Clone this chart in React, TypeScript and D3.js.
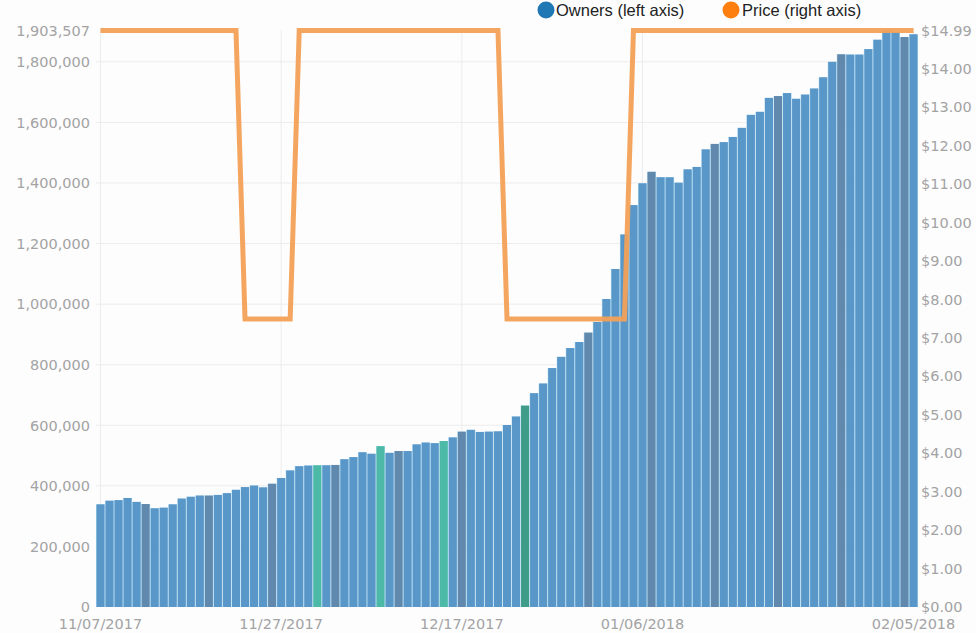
import React from "react";
import * as d3 from "d3";

const startDate = "11/07/2017";
const owners = [
  339000, 351000, 353000, 360000, 347000, 340000, 326000, 328000, 339000, 358000,
  364000, 368000, 368000, 370000, 376000, 387000, 396000, 401000, 395000, 407000,
  426000, 451000, 465000, 467000, 468000, 468000, 469000, 488000, 495000, 511000,
  506000, 531000, 509000, 515000, 515000, 537000, 543000, 541000, 548000, 560000,
  579000, 585000, 578000, 579000, 580000, 601000, 629000, 665000, 706000, 738000,
  789000, 826000, 855000, 875000, 906000, 941000, 1017000, 1116000, 1230000, 1327000,
  1399000, 1437000, 1419000, 1419000, 1401000, 1445000, 1453000, 1511000, 1529000, 1535000,
  1552000, 1582000, 1625000, 1635000, 1681000, 1687000, 1697000, 1678000, 1692000, 1712000,
  1749000, 1800000, 1825000, 1824000, 1824000, 1842000, 1873000, 1903507, 1899000, 1882000,
  1891000,
];
const priceChangeDates = ["11/07/2017", "11/23/2017", "11/29/2017", "12/22/2017", "01/05/2018"];
const priceChangeValues = [14.99, 7.49, 14.99, 7.49, 14.99];
const markedDates = ["12/01/2017", "12/08/2017", "12/15/2017", "12/24/2017"];
const xTickLabels = ["11/07/2017", "11/27/2017", "12/17/2017", "01/06/2018", "02/05/2018"];
const leftTicks = [0, 200000, 400000, 600000, 800000, 1000000, 1200000, 1400000, 1600000, 1800000, 1903507];
const rightTicks = [0, 1, 2, 3, 4, 5, 6, 7, 8, 9, 10, 11, 12, 13, 14, 14.99];
const legendLabels = ["Owners (left axis)", "Price (right axis)"];

const parse = d3.timeParse("%m/%d/%Y");
const fmt = d3.timeFormat("%m/%d/%Y");

export default function App() {
  const W = 976, H = 633;
  const left = 96, right = 918, top = 30.5, bottom = 607;

  const start = parse(startDate) as Date;
  const dates = owners.map((_, i) => fmt(d3.timeDay.offset(start, i)));
  const changeTimes = priceChangeDates.map((d) => (parse(d) as Date).getTime());
  const prices = dates.map((d) => {
    const t = (parse(d) as Date).getTime();
    let p = priceChangeValues[0];
    changeTimes.forEach((ct, k) => { if (t >= ct) p = priceChangeValues[k]; });
    return p;
  });

  const x = d3.scaleBand<string>().domain(dates).range([left, right]).paddingInner(0.11).paddingOuter(0.05);
  const xc = (d: string) => (x(d) as number) + x.bandwidth() / 2;
  const yL = d3.scaleLinear().domain([0, 1903507]).range([bottom, top]);
  const yR = d3.scaleLinear().domain([0, 14.99]).range([bottom, top]);

  const line = d3.line<number>().x((_, i) => xc(dates[i])).y((p) => yR(p)).curve(d3.curveLinear);

  const barColor = (d: string) => {
    const dt = parse(d) as Date;
    const sunday = dt.getDay() === 0;
    const marked = markedDates.includes(d);
    if (marked && sunday) return "#3f9c88";
    if (marked) return "#4cbaa6";
    if (sunday) return "#6089ad";
    return "#5a97c9";
  };

  const axisFont = { fontFamily: "DejaVu Sans", fontSize: 14.5, fill: "#a3a3a3" } as const;
  const commaFmt = d3.format(",");

  return (
    <svg width={W} height={H} style={{ position: "absolute", left: 0, top: 0, background: "#fff" }}>
      <rect x={0} y={0} width={W} height={H} fill="#fdfdfe" />
      {leftTicks.slice(1, -1).map((t) => (
        <line key={"hg" + t} x1={left} x2={right} y1={yL(t)} y2={yL(t)} stroke="#ececec" strokeWidth={1} />
      ))}
      {xTickLabels.map((d) => (
        <line key={"vg" + d} x1={xc(d)} x2={xc(d)} y1={top} y2={bottom} stroke="#ececec" strokeWidth={1} />
      ))}
      {owners.map((v, i) => (
        <rect key={"g" + i} x={(x(dates[i]) as number) - 0.5} y={yL(v)} width={x.bandwidth() + 1} height={bottom - yL(v)} fill="#b9dff3" />
      ))}
      {owners.map((v, i) => (
        <rect key={"b" + i} x={x(dates[i])} y={yL(v)} width={x.bandwidth()} height={bottom - yL(v)} fill={barColor(dates[i])} />
      ))}
      <path d={line(prices) as string} fill="none" stroke="#f3a157" strokeOpacity={0.95} strokeWidth={5} strokeLinejoin="miter" />
      {leftTicks.map((t) => (
        <text key={"lt" + t} x={90} y={yL(t)} dy="0.36em" textAnchor="end" {...axisFont}>
          {commaFmt(t)}
        </text>
      ))}
      {rightTicks.map((t) => (
        <text key={"rt" + t} x={921} y={yR(t)} dy="0.36em" textAnchor="start" {...axisFont}>
          {"$" + t.toFixed(2)}
        </text>
      ))}
      {xTickLabels.map((d) => (
        <text key={"xt" + d} x={xc(d)} y={629} textAnchor="middle" {...axisFont}>
          {d}
        </text>
      ))}
      <circle cx={546} cy={10} r={8.5} fill="#1f77b4" />
      <text x={556} y={16} fontFamily="Liberation Sans" fontSize={16.5} fill="#222">{legendLabels[0]}</text>
      <circle cx={731} cy={10} r={8.5} fill="#ff7f0e" />
      <text x={742} y={16} fontFamily="Liberation Sans" fontSize={16.5} fill="#222">{legendLabels[1]}</text>
    </svg>
  );
}
